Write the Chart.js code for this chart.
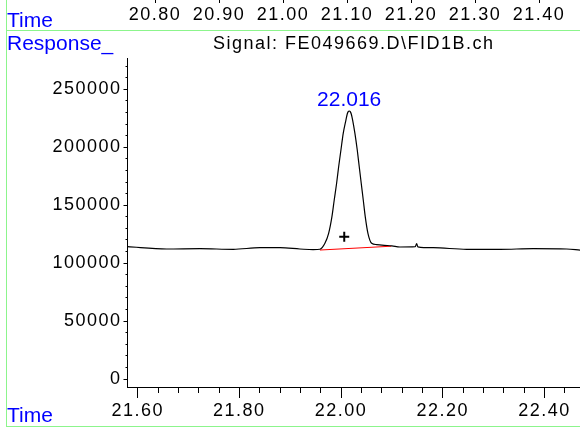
<!DOCTYPE html>
<html>
<head>
<meta charset="utf-8">
<script src="https://cdn.jsdelivr.net/npm/chart.js@4.4.1/dist/chart.umd.min.js"></script>
<style>
  html, body { margin: 0; padding: 0; background: #fff; }
  canvas { display: block; }
</style>
</head>
<body>
<canvas id="chart" width="580" height="427"></canvas>
<script>
const FONT = "'Liberation Sans', Arial, sans-serif";

// FID signal (min, response)
const traceTimes = [21.580, 21.657, 21.7225, 21.788, 21.8405, 21.880, 21.919, 21.945, 21.9585,
  21.9683, 21.9756, 21.9821, 21.9866, 21.9913, 21.9953, 21.9998, 22.0043, 22.0096, 22.0122,
  22.0141, 22.0161, 22.0181, 22.0201, 22.0228, 22.0273, 22.0319, 22.0358, 22.0397, 22.0437,
  22.0476, 22.0529, 22.0602, 22.0700, 22.085, 22.100, 22.1158, 22.146, 22.1487, 22.151,
  22.1813, 22.247, 22.3125, 22.378, 22.4437, 22.470];
const traceResponses = [114200, 112200, 112500, 111900, 113300, 113300, 112200, 111600, 112000,
  117100, 125700, 140100, 154500, 168900, 183200, 197600, 212000, 223500, 228700,
  230800, 231300, 230800, 228700, 223500, 212000, 197600, 183200, 168900, 154500,
  140100, 125700, 117100, 116000, 115400, 114900, 113900, 114200, 116800, 114100,
  113300, 111900, 111900, 112500, 112200, 111300];

// integration baseline under the peak
const baselineTimes = [21.9585, 22.099];
const baselineResponses = [111300, 114600];

// "+" marker and the retention time label
const markerTimes = [22.0063];
const markerResponses = [122800];
const peakTimes = [22.016];
const peakResponses = [231300];

// axis ranges and ticks
const xRange = [21.58, 22.47];
const yRange = [-6900, 276500];
const topRange = [20.757, 21.464];   // time axis of the panel above
const yTicks = Array.from({ length: 28 }, (_, i) => i * 10000);

const isMajor = (v, step) => Math.abs(v / step - Math.round(v / step)) < 1e-6;
const pts = (xs, ys) => xs.map((t, i) => ({ x: t, y: ys[i] }));
const tickFont = { family: FONT, size: 18 };

const framePlugin = {
  id: 'frame',
  beforeDraw(chart) {
    chart.ctx.letterSpacing = '1.5px';
  },
  afterDraw(chart) {
    const ctx = chart.ctx;
    const { x, y } = chart.scales;
    ctx.save();
    ctx.strokeStyle = '#8cf58c';
    ctx.lineWidth = 1;
    ctx.beginPath();
    ctx.moveTo(6.5, 0); ctx.lineTo(6.5, chart.height);
    ctx.moveTo(6, 30.5); ctx.lineTo(chart.width, 30.5);
    ctx.moveTo(6, chart.height - 0.5); ctx.lineTo(chart.width, chart.height - 0.5);
    ctx.stroke();

    ctx.fillStyle = '#0000ff';
    ctx.textBaseline = 'alphabetic';
    ctx.textAlign = 'left';
    ctx.font = '21px ' + FONT;
    ctx.letterSpacing = '0px';
    ctx.fillText('Time', 7, 26.5);
    ctx.fillText('Response_', 7, 50);
    ctx.fillText('Time', 7, 421.5);

    ctx.textAlign = 'center';
    peakTimes.forEach((t, i) => {
      ctx.fillText(t.toFixed(3), x.getPixelForValue(t), y.getPixelForValue(peakResponses[i]) - 5);
    });
    ctx.restore();
  }
};

new Chart(document.getElementById('chart'), {
  type: 'scatter',
  data: {
    datasets: [
      {
        data: pts(baselineTimes, baselineResponses),
        showLine: true, borderColor: '#ff0000', borderWidth: 1, pointRadius: 0, order: 2
      },
      {
        data: pts(traceTimes, traceResponses),
        showLine: true, borderColor: '#000', borderWidth: 1.2, pointRadius: 0,
        cubicInterpolationMode: 'monotone', order: 1
      },
      {
        data: pts(markerTimes, markerResponses),
        pointStyle: 'cross', pointRadius: 5, borderColor: '#000', borderWidth: 2, order: 0
      }
    ]
  },
  options: {
    responsive: false,
    animation: false,
    devicePixelRatio: 1,
    events: [],
    layout: { padding: 0, autoPadding: false },
    plugins: {
      legend: { display: false },
      tooltip: { enabled: false },
      title: {
        display: true,
        text: 'Signal: FE049669.D\\FID1B.ch',
        fullSize: false,
        color: '#000',
        font: { family: FONT, size: 18, weight: 'normal' },
        padding: { top: 2, bottom: 4 }
      }
    },
    scales: {
      x: {
        type: 'linear', position: 'bottom',
        min: xRange[0], max: xRange[1],
        afterFit: s => { s.height = 40; },
        border: { color: '#000', width: 1 },
        grid: {
          drawOnChartArea: false, tickLength: 11, tickColor: '#000',
          tickBorderDash: c => (c.tick && !isMajor(c.tick.value, 0.2)) ? [5, 20] : []
        },
        ticks: {
          stepSize: 0.04, autoSkip: false, maxRotation: 0, includeBounds: false,
          padding: 2, color: '#000', font: tickFont,
          callback: v => isMajor(v, 0.2) ? v.toFixed(2) : ''
        }
      },
      y: {
        type: 'linear', position: 'left',
        min: yRange[0], max: yRange[1],
        afterFit: s => { s.width = 127.5; },
        afterBuildTicks: s => { s.ticks = yTicks.map(v => ({ value: v })); },
        border: { color: '#000', width: 1 },
        grid: {
          drawOnChartArea: false, tickLength: 4, tickColor: '#000',
          tickBorderDash: c => (c.tick && !isMajor(c.tick.value, 50000)) ? [0, 2, 2, 20] : []
        },
        ticks: {
          autoSkip: false, padding: 2, color: '#000', font: tickFont,
          callback: v => isMajor(v, 50000) ? String(v) : ''
        }
      },
      xTop: {
        type: 'linear', position: 'top', weight: 3000,
        min: topRange[0], max: topRange[1],
        afterFit: s => { s.height = 28; },
        border: { display: false },
        grid: { display: false, drawTicks: false },
        ticks: {
          stepSize: 0.1, autoSkip: false, maxRotation: 0, includeBounds: false,
          padding: 5, color: '#000', font: tickFont,
          callback: v => v.toFixed(2)
        }
      },
      xTopTicks: {
        type: 'linear', position: 'top', weight: 4000,
        min: topRange[0], max: topRange[1],
        border: { display: false },
        grid: { drawOnChartArea: false, tickLength: 3, tickColor: '#000' },
        ticks: { display: false, stepSize: 0.1, includeBounds: false }
      }
    }
  },
  plugins: [framePlugin]
});
</script>
</body>
</html>
